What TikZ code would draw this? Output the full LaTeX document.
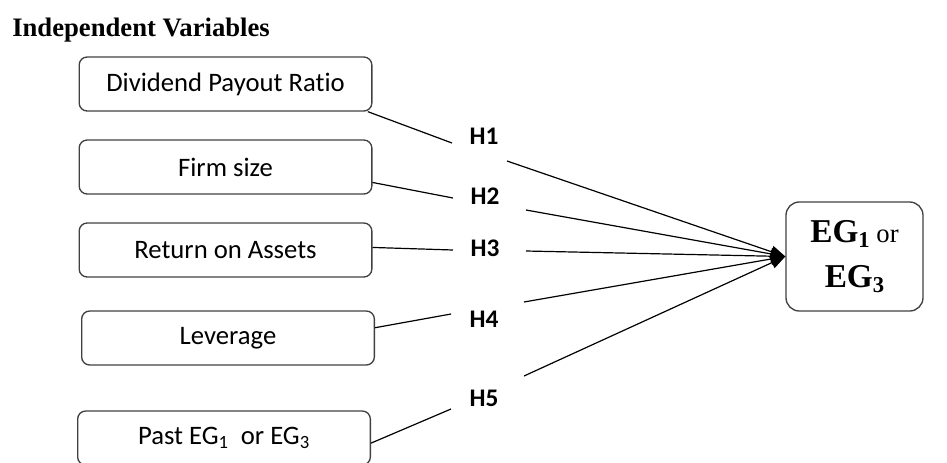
\documentclass[tikz,border=0pt]{standalone}
\usepackage{fontspec}
\setmainfont{Liberation Serif}
\newfontfamily\calibri[Ligatures=NoCommon]{Carlito}
\usetikzlibrary{positioning, arrows.meta}
\newcommand{\egsub}[1]{\textbf{EG}\raisebox{-0.35ex}{\fontsize{17}{17}\selectfont\bfseries #1}}

\begin{document}
\begin{tikzpicture}[
		x=0.75pt, y=-0.75pt,
		>={Triangle[length=11pt, width=9pt]},
		factorbox/.style={draw=black!75, rectangle, line width=1pt, rounded corners=6pt, minimum width=219.5pt, minimum height=40.5pt, inner sep=0pt, align=center, font=\calibri\fontsize{20}{22}\selectfont},
		hypo/.style={inner sep=0pt, font=\calibri\bfseries\fontsize{19}{20}\selectfont},
		outcome/.style={draw=black!75, rectangle, line width=1pt, rounded corners=10pt, minimum width=102.75pt, minimum height=81.75pt, inner sep=0pt, align=center, font=\fontsize{25}{34}\selectfont},
		link/.style={line width=0.9pt},
	]
	\useasboundingbox (0,0) rectangle (947,462);
	\node[anchor=base west, inner sep=0pt, font=\bfseries\fontsize{20}{24}\selectfont] (title) at (12,36) {Independent Variables};

	\node[factorbox] (payout) at (225.5,84) {Dividend Payout Ratio};
	\node[factorbox] (size) at (225.5,167) {Firm size};
	\node[factorbox] (roa) at (225.5,250) {Return on Assets};
	\node[factorbox] (leverage) at (228,338) {Leverage};
	\node[factorbox] (past) at (224,438) {Past EG\textsubscript{1}\ \ or EG\textsubscript{3}};

	\node[hypo] (h1) at (484,136) {H1};
	\node[hypo] (h2) at (485,196) {H2};
	\node[hypo] (h3) at (485,248) {H3};
	\node[hypo] (h4) at (484,319) {H4};
	\node[hypo] (h5) at (484,398) {H5};

	\node[outcome] (eg) at (854.5,256.5) {\egsub{1}{\fontsize{20}{20}\selectfont\ or}\\\egsub{3}};

	% ends of the broken lines beside the H labels
	\coordinate (h1in) at (452,143);
	\coordinate (h2in) at (453,198);
	\coordinate (h3in) at (453,250);
	\coordinate (h4in) at (451,314);
	\coordinate (h5in) at (451,409);
	\coordinate (h1out) at (507,161);
	\coordinate (h2out) at (526,210);
	\coordinate (h3out) at (526,251);
	\coordinate (h4out) at (524,302);
	\coordinate (h5out) at (524,376);

	\draw[link] (payout.-11) -- (h1in);
	\draw[link] (size.-6) -- (h2in);
	\draw[link] (roa.1) -- (h3in);
	\draw[link] (leverage.4) -- (h4in);
	\draw[link] (past.-2) -- (h5in);

	\draw[link, ->] (h1out) -- (eg.west);
	\draw[link, ->] (h2out) -- (eg.west);
	\draw[link, ->] (h3out) -- (eg.west);
	\draw[link, ->] (h4out) -- (eg.west);
	\draw[link, ->] (h5out) -- (eg.west);
\end{tikzpicture}
\end{document}
